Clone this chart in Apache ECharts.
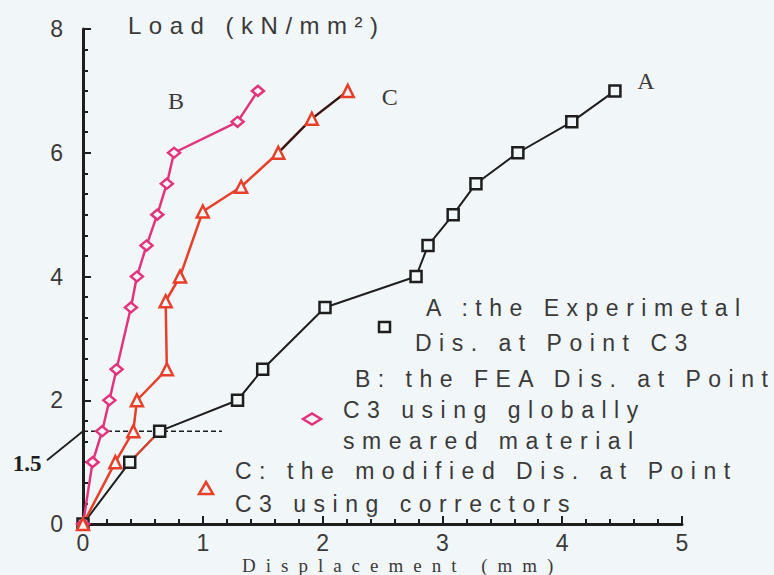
<!DOCTYPE html>
<html>
<head>
<meta charset="utf-8">
<script src="https://cdn.jsdelivr.net/npm/echarts@6/dist/echarts.min.js"></script>
<style>
  html, body { margin: 0; padding: 0; background: #f1f6f8; }
  #chart { width: 774px; height: 575px; }
  /* wide tracking for the caption texts (sans and serif captions use their own family lists) */
  #chart text[style*="sans-serif"] { letter-spacing: 7.5px; }
  #chart text[style*=", serif"] { letter-spacing: 10px; }
</style>
</head>
<body>
<div id="chart"></div>
<script>
// A: experimental displacement at point C3
const dispA = [0, 0.39, 0.64, 1.29, 1.50, 2.02, 2.78, 2.88, 3.09, 3.28, 3.63, 4.08, 4.44];
const loadA = [0, 1.0, 1.5, 2.0, 2.5, 3.5, 4.0, 4.5, 5.0, 5.5, 6.0, 6.5, 7.0];
// B: FEA displacement, globally smeared material
const dispB = [0, 0.08, 0.16, 0.22, 0.28, 0.40, 0.45, 0.53, 0.62, 0.70, 0.76, 1.29, 1.46];
const loadB = [0, 1.0, 1.5, 2.0, 2.5, 3.5, 4.0, 4.5, 5.0, 5.5, 6.0, 6.5, 7.0];
// C: modified displacement using correctors
const dispC = [0, 0.27, 0.42, 0.45, 0.70, 0.69, 0.81, 1.00, 1.32, 1.63, 1.91, 2.21];
const loadC = [0, 1.0, 1.5, 2.0, 2.5, 3.6, 4.0, 5.05, 5.45, 6.0, 6.55, 7.0];

// reference load level marked with the dashed guide
const guideLoad = 1.5;
const guideDisp = [0, 1.16];

const xTicks = [0, 1, 2, 3, 4, 5];
const yTicks = [0, 2, 4, 6, 8];

const yTitle = 'Load (kN/mm²)';
const xTitle = 'Displacement (mm)';
const curveNames = ['A', 'B', 'C'];
const legendA = ['A :the Experimetal', 'Dis. at Point C3'];
const legendB = ['B: the FEA Dis. at Point', 'C3 using globally', 'smeared material'];
const legendC = ['C: the modified Dis. at Point', 'C3 using correctors'];

const BG = '#f1f6f8';
const INK = '#1e1e1e';
const TEXT = '#3a3a3a';
const PINK = '#e2347c';
const RED = '#e6402a';
const SANS = 'Liberation Sans';
const SANS_SPACED = 'Liberation Sans, sans-serif';
const SERIF = 'Liberation Serif';
const SERIF_SPACED = 'Liberation Serif, serif';

const pair = (xs, ys) => xs.map((x, i) => [x, ys[i]]);
const ptsA = pair(dispA, loadA);
const ptsB = pair(dispB, loadB);
const ptsC = pair(dispC, loadC);

const chart = echarts.init(document.getElementById('chart'), null, { renderer: 'svg' });

function axisCommon(minorSplit, labelMargin) {
  return {
    type: 'value',
    axisLine: { show: true, onZero: false, lineStyle: { color: INK, width: 3 } },
    axisTick: { show: true, inside: true, length: 8, lineStyle: { color: INK, width: 2 } },
    minorTick: { show: true, splitNumber: minorSplit, length: 5, lineStyle: { color: INK, width: 2 } },
    splitLine: { show: false },
    minorSplitLine: { show: false },
    axisLabel: { fontSize: 23, fontFamily: SANS, color: TEXT, margin: labelMargin }
  };
}

chart.setOption({
  animation: false,
  backgroundColor: BG,
  grid: { left: 83, right: 92, top: 29, bottom: 51 },
  xAxis: Object.assign(axisCommon(5, 7), {
    min: xTicks[0], max: xTicks[xTicks.length - 1], interval: xTicks[1] - xTicks[0]
  }),
  yAxis: Object.assign(axisCommon(6, 20), {
    min: yTicks[0], max: yTicks[yTicks.length - 1], interval: yTicks[1] - yTicks[0]
  }),
  series: [
    { type: 'line', data: ptsA, symbol: 'none', lineStyle: { color: INK, width: 2 }, z: 2 },
    { type: 'line', data: ptsA.slice(1, 3), symbol: 'none', lineStyle: { color: RED, width: 2 }, z: 3 },
    { type: 'line', data: ptsC, symbol: 'none', lineStyle: { color: RED, width: 2.5 }, z: 2 },
    { type: 'line', data: ptsC.slice(-3), symbol: 'none', lineStyle: { color: INK, width: 2 }, z: 3 },
    { type: 'line', data: ptsB, symbol: 'none', lineStyle: { color: PINK, width: 2.5 }, z: 2 },
    { type: 'line', data: guideDisp.map(x => [x, guideLoad]), symbol: 'none',
      lineStyle: { color: INK, width: 1.5, type: [5, 3] }, z: 2 },
    { type: 'scatter', data: ptsA, symbol: 'rect', symbolSize: 11,
      itemStyle: { color: BG, borderColor: INK, borderWidth: 2.5, opacity: 1 }, z: 5 },
    { type: 'scatter', data: ptsB, symbol: 'diamond', symbolSize: [12, 10],
      itemStyle: { color: BG, borderColor: PINK, borderWidth: 2.5, opacity: 1 }, z: 5 },
    { type: 'scatter', data: ptsC, symbol: 'triangle', symbolSize: 12,
      itemStyle: { color: BG, borderColor: RED, borderWidth: 2.5, opacity: 1 }, z: 5 }
  ]
});

const px = v => chart.convertToPixel({ gridIndex: 0 }, v);

function txt(x, y, text, size, family, color, align, weight) {
  return {
    type: 'text', x: x, y: y, z: 10,
    style: { text: text, fontSize: size, fontFamily: family, fill: color,
             fontWeight: weight || 'normal',
             align: align || 'left', verticalAlign: 'middle' }
  };
}

function lines(x0, y0, arr, step, xs) {
  return arr.map((t, i) => txt(xs ? xs[i] : x0, y0 + i * step, t, 23, SANS_SPACED, TEXT));
}

const endA = px(ptsA[ptsA.length - 1]);
const endB = px(ptsB[ptsB.length - 1]);
const endC = px(ptsC[ptsC.length - 1]);
const guide = px([0, guideLoad]);

const graphics = [
  txt(128, 25, yTitle, 24, SANS_SPACED, TEXT),
  txt(242, 565.5, xTitle, 19, SERIF_SPACED, TEXT),
  txt(endA[0] + 31, endA[1] - 10, curveNames[0], 24, SERIF, TEXT, 'center'),
  txt(endB[0] - 82, endB[1] + 10, curveNames[1], 24, SERIF, TEXT, 'center'),
  txt(endC[0] + 42, endC[1] + 6, curveNames[2], 24, SERIF, TEXT, 'center'),
  // leader from the 1.5 callout to the axis
  { type: 'line', z: 10, shape: { x1: guide[0] - 36, y1: guide[1] + 29, x2: guide[0], y2: guide[1] },
    style: { stroke: INK, lineWidth: 1.8 } },
  txt(guide[0] - 56, guide[1] + 32, String(guideLoad), 23, SERIF, INK, 'center', 'bold'),
  // legend symbols
  { type: 'rect', z: 10, shape: { x: 379, y: 322, width: 11, height: 10 },
    style: { fill: BG, stroke: INK, lineWidth: 2.5 } },
  { type: 'polygon', z: 10, shape: { points: [[303, 419], [312, 413.5], [321, 419], [312, 424.5]] },
    style: { fill: BG, stroke: PINK, lineWidth: 2.5 } },
  { type: 'polygon', z: 10, shape: { points: [[206, 482], [213, 494], [199, 494]] },
    style: { fill: BG, stroke: RED, lineWidth: 2.5 } }
]
  .concat(lines(0, 308, legendA, 35, [426, 415]))
  .concat(lines(0, 379, legendB, 31, [355, 343, 343]))
  .concat(lines(235, 471, legendC, 33));

chart.setOption({ graphic: graphics });
</script>
</body>
</html>
